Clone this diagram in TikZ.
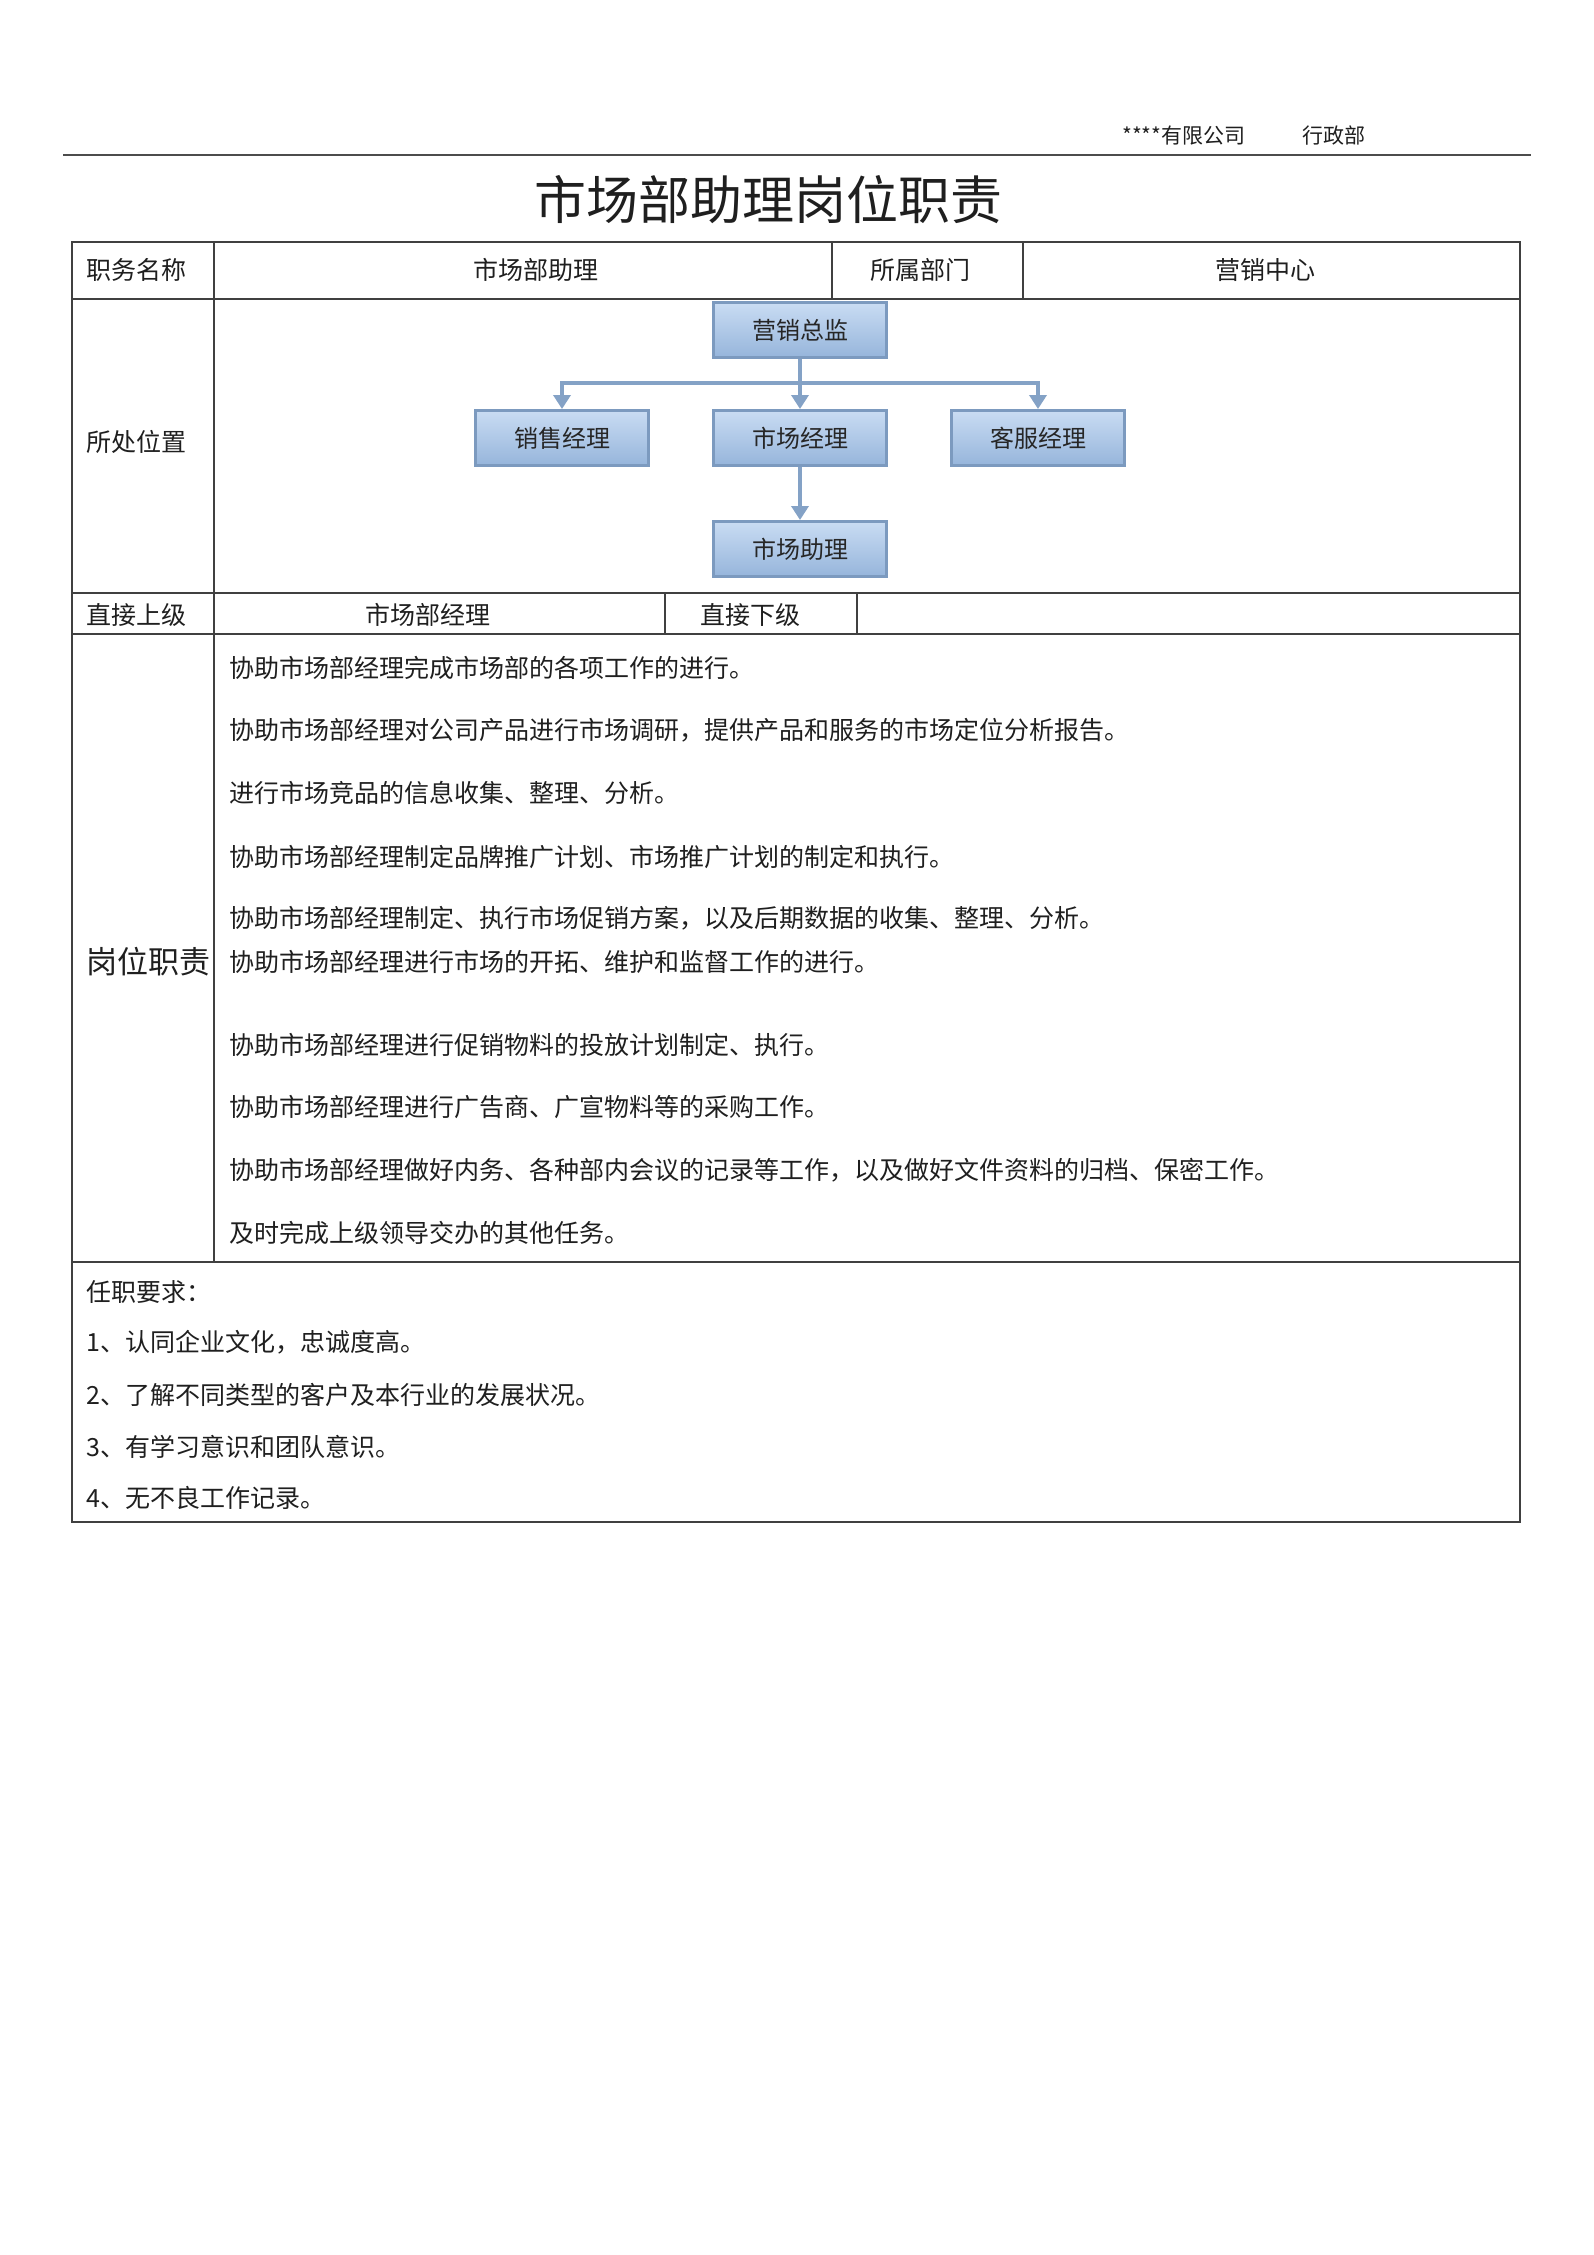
\documentclass[tikz,border=0pt]{standalone}
\usepackage{fontspec}
\usepackage{xcolor}
\usepackage{tikz}
\usetikzlibrary{arrows.meta,positioning,calc}
\newfontfamily\cjk{Noto Sans CJK SC}
\definecolor{boxtop}{RGB}{201,220,243}
\definecolor{boxbot}{RGB}{150,181,219}
\definecolor{boxline}{RGB}{124,154,191}
\definecolor{linkc}{RGB}{132,162,198}
\definecolor{rulec}{RGB}{64,64,64}

\begin{document}
\begin{tikzpicture}[
    x=1pt, y=-1pt,
    node distance=50pt and 62pt,
    box/.style={rectangle, draw=boxline, line width=3pt, top color=boxtop, bottom color=boxbot, minimum width=173pt, minimum height=55pt, font=\cjk\fontsize{24}{24}\selectfont, text=black!85},
    cell/.style={inner sep=0pt, font=\cjk\fontsize{25}{25}\selectfont, text=black!88},
    lbl/.style={cell, anchor=west},
    grid/.style={draw=rulec, line width=2pt},
    link/.style={draw=linkc, line width=4.5pt},
    arrow/.style={link, -{Triangle[width=17pt,length=14pt]}}
]

% Page
\fill[white] (0,0) rectangle (1594,2255);
\useasboundingbox (0,0) rectangle (1594,2255);

% Header
\node[cell, anchor=west, font=\cjk\fontsize{21}{21}\selectfont] (gs) at (1122,136) {****有限公司};
\node[cell, anchor=west, font=\cjk\fontsize{21}{21}\selectfont] (xzb) at (1302,136) {行政部};
\draw[draw=black!70, line width=2.5pt] (63,155) -- (1531,155);
\node[cell, font=\cjk\fontsize{52}{52}\selectfont] (title) at (768,200) {市场部助理岗位职责};

% Table lines
\draw[grid] (72,242) rectangle (1520,1522);
\draw[grid] (72,299) -- (1520,299);
\draw[grid] (72,593) -- (1520,593);
\draw[grid] (72,634) -- (1520,634);
\draw[grid] (72,1262) -- (1520,1262);
\draw[grid] (214,242) -- (214,1262);
\draw[grid] (832,242) -- (832,299);
\draw[grid] (1023,242) -- (1023,299);
\draw[grid] (665,593) -- (665,634);
\draw[grid] (857,593) -- (857,634);

% Row 1
\node[lbl] (zwmc) at (86,270) {职务名称};
\node[cell] (zwmcv) at (536,270) {市场部助理};
\node[cell] (ssbm) at (920,270) {所属部门};
\node[cell] (ssbmv) at (1265,270) {营销中心};

% Row 2: org chart
\node[lbl] (szwz) at (86,442) {所处位置};
\node[box] (zj) at (800,330) {营销总监};
\node[box, below=of zj] (sc) {市场经理};
\node[box, left=of sc] (xs) {销售经理};
\node[box, right=of sc] (kf) {客服经理};
\node[box, below=53pt of sc] (zl) {市场助理};
\coordinate[below=24pt of zj] (bus);

\draw[arrow] (zj.south) -- (sc.north);
\draw[arrow] (bus) -| (xs.north);
\draw[arrow] (bus) -| (kf.north);
\draw[arrow] (sc.south) -- (zl.north);

% Row 3
\node[lbl] (zjsj) at (86,615) {直接上级};
\node[cell] (zjsjv) at (428,615) {市场部经理};
\node[cell] (zjxj) at (750,615) {直接下级};

% Row 4: duties
\node[lbl, font=\cjk\fontsize{31}{31}\selectfont] (gwzz) at (86,962) {岗位职责};
\node[lbl] (d1) at (229,668) {协助市场部经理完成市场部的各项工作的进行。};
\node[lbl] (d2) at (229,730) {协助市场部经理对公司产品进行市场调研，提供产品和服务的市场定位分析报告。};
\node[lbl] (d3) at (229,793) {进行市场竞品的信息收集、整理、分析。};
\node[lbl] (d4) at (229,857) {协助市场部经理制定品牌推广计划、市场推广计划的制定和执行。};
\node[lbl] (d5) at (229,918) {协助市场部经理制定、执行市场促销方案，以及后期数据的收集、整理、分析。};
\node[lbl] (d6) at (229,962) {协助市场部经理进行市场的开拓、维护和监督工作的进行。};
\node[lbl] (d7) at (229,1045) {协助市场部经理进行促销物料的投放计划制定、执行。};
\node[lbl] (d8) at (229,1107) {协助市场部经理进行广告商、广宣物料等的采购工作。};
\node[lbl] (d9) at (229,1170) {协助市场部经理做好内务、各种部内会议的记录等工作，以及做好文件资料的归档、保密工作。};
\node[lbl] (d10) at (229,1233) {及时完成上级领导交办的其他任务。};

% Row 5: requirements
\node[lbl] (rq) at (86,1292) {任职要求：};
\node[lbl] (rq1) at (86,1342) {1、认同企业文化，忠诚度高。};
\node[lbl] (rq2) at (86,1395) {2、了解不同类型的客户及本行业的发展状况。};
\node[lbl] (rq3) at (86,1447) {3、有学习意识和团队意识。};
\node[lbl] (rq4) at (86,1498) {4、无不良工作记录。};

\end{tikzpicture}
\end{document}
